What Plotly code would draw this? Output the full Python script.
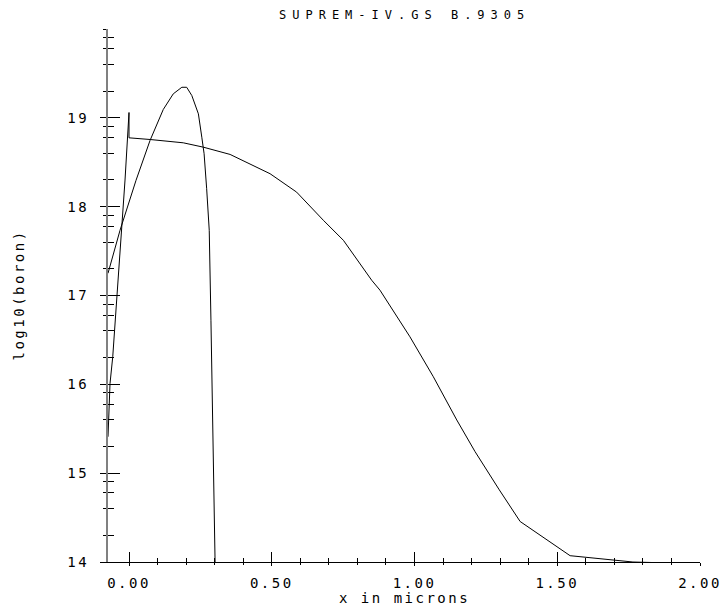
import math
import plotly.graph_objects as go

# ---- data ----
# boron profile after diffusion (oxide part x<0, segregation spike at interface)
x_diffused = [-0.0736, -0.0665, -0.057, -0.048, -0.0375, -0.0256, -0.014, 0.0, 0.0,
              0.074, 0.190, 0.260, 0.354, 0.494, 0.587, 0.681, 0.751, 0.850, 0.879,
              0.984, 1.066, 1.148, 1.212, 1.297, 1.370, 1.545, 1.765, 2.0]
y_diffused = [15.41, 16.01, 16.31, 16.72, 17.17, 17.73, 18.30, 19.06, 18.775,
              18.756, 18.719, 18.670, 18.588, 18.371, 18.164, 17.846, 17.621, 17.172, 17.060,
              16.535, 16.085, 15.599, 15.243, 14.812, 14.456, 14.071, 14.0, 13.98]

# as-implanted boron profile
x_implant = [-0.0736, -0.0315, 0.0245, 0.0736, 0.120, 0.155, 0.185, 0.202, 0.220,
             0.243, 0.255, 0.263, 0.272, 0.281, 0.287, 0.295, 0.301, 0.302]
y_implant = [17.25, 17.734, 18.296, 18.745, 19.094, 19.270, 19.344, 19.344, 19.251,
             19.045, 18.782, 18.596, 18.202, 17.734, 16.722, 15.149, 14.003, 13.9]

x_tickvals = [0.0, 0.5, 1.0, 1.5, 2.0]
x_ticktext = ["0.00", "0.50", "1.00", "1.50", "2.00"]
y_tickvals = [14, 15, 16, 17, 18, 19]
y_ticktext = ["14", "15", "16", "17", "18", "19"]

title_text = "SUPREM-IV.GS B.9305"
x_title = "x in microns"
y_title = "log10(boron)"

# ---- axis decoration ----
x_range = [-0.0736, 2.0]
y_range = [14, 20]
x_minor = [round(i * 0.1, 2) for i in range(1, 20) if i % 5 != 0]
y_minor = [d + math.log10(m) for d in range(14, 20) for m in (2, 4, 6, 8)] + [20]

FONT = "DejaVu Sans Mono"


def spaced(s, ls):
    return f'<span style="letter-spacing:{ls}px">{s}</span>'


fig = go.Figure()
fig.add_trace(go.Scatter(x=x_diffused, y=y_diffused, mode="lines",
                         line=dict(color="black", width=1), hoverinfo="skip"))
fig.add_trace(go.Scatter(x=x_implant, y=y_implant, mode="lines",
                         line=dict(color="black", width=1), hoverinfo="skip"))
# empty helper trace that carries the inward half of the crossing ticks
fig.add_trace(go.Scatter(x=[], y=[], xaxis="x2", yaxis="y2", mode="lines",
                         hoverinfo="skip"))

tickfont = dict(family=FONT, size=14, color="black")

fig.update_layout(
    width=725, height=606,
    margin=dict(l=108, r=25, t=29, b=44),
    paper_bgcolor="white", plot_bgcolor="rgba(0,0,0,0)",
    showlegend=False,
    xaxis=dict(range=x_range, showgrid=False, zeroline=False, automargin=False,
               showline=True, linecolor="black", linewidth=1,
               tickmode="array", tickvals=x_tickvals,
               ticktext=[spaced(t, 2.5) for t in x_ticktext],
               ticks="outside", ticklen=3, tickwidth=1, tickcolor="black",
               minor=dict(ticks="outside", ticklen=2, tickwidth=1, tickcolor="black",
                          tickmode="array", tickvals=x_minor, showgrid=False),
               tickfont=tickfont, ticklabelstandoff=5),
    yaxis=dict(range=y_range, showgrid=False, zeroline=False, automargin=False,
               showline=True, linecolor="#808080", linewidth=2,
               tickmode="array", tickvals=y_tickvals,
               ticktext=[spaced(t, 2.5) for t in y_ticktext],
               ticks="outside", ticklen=6, tickwidth=1, tickcolor="black",
               minor=dict(ticks="outside", ticklen=3, tickwidth=1, tickcolor="black",
                          tickmode="array", tickvals=y_minor, showgrid=False),
               tickfont=tickfont, ticklabelstandoff=8),
    xaxis2=dict(range=x_range, anchor="y2", domain=[0, 1], automargin=False,
                showgrid=False, zeroline=False,
                showline=True, linecolor="black", linewidth=1,
                tickmode="array", tickvals=x_tickvals, showticklabels=False,
                ticks="inside", ticklen=10, tickwidth=1, tickcolor="black",
                minor=dict(ticks="inside", ticklen=4, tickwidth=1, tickcolor="black",
                           tickmode="array", tickvals=x_minor, showgrid=False)),
    yaxis2=dict(range=y_range, anchor="x2", domain=[0, 1], automargin=False,
                showgrid=False, zeroline=False,
                showline=True, linecolor="#808080", linewidth=2,
                tickmode="array", tickvals=y_tickvals, showticklabels=False,
                ticks="inside", ticklen=12, tickwidth=1, tickcolor="black",
                minor=dict(ticks="inside", ticklen=6, tickwidth=1, tickcolor="black",
                           tickmode="array", tickvals=y_minor, showgrid=False)),
    annotations=[
        dict(text=spaced(title_text, 6), xref="paper", yref="paper", x=0.5, y=1,
             xanchor="center", yanchor="middle", yshift=14, showarrow=False,
             font=dict(family=FONT, size=12, color="black")),
        dict(text=spaced(x_title, 2.5), xref="paper", yref="paper", x=0.5, y=0,
             xanchor="center", yanchor="middle", yshift=-36, showarrow=False,
             font=dict(family=FONT, size=14, color="black")),
        dict(text=spaced(y_title, 2.5), xref="paper", yref="paper", x=0, y=0.5,
             xanchor="center", yanchor="middle", xshift=-90, textangle=-90,
             showarrow=False, font=dict(family=FONT, size=14, color="black")),
    ],
)

fig.write_html("out.html")
